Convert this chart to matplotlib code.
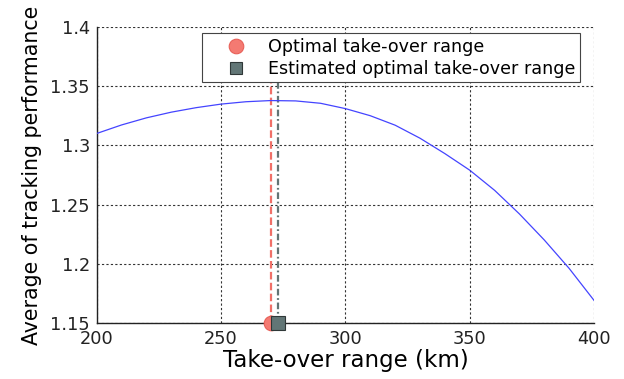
import matplotlib
matplotlib.use("Agg")
import matplotlib.pyplot as plt
from matplotlib.lines import Line2D

plt.rcParams['font.family'] = ['DejaVu Sans']

# Data
take_over_range = [200, 210, 220, 230, 240, 250, 260, 270, 280, 290, 300,
                   310, 320, 330, 340, 350, 360, 370, 380, 390, 400]
avg_performance = [1.310, 1.3172, 1.3232, 1.328, 1.3318, 1.3348, 1.3368, 1.3378,
                   1.3375, 1.3355, 1.331, 1.325, 1.317, 1.306, 1.293, 1.279,
                   1.262, 1.242, 1.220, 1.196, 1.169]
optimal_range = 270
estimated_range = 273
xticks = [200, 250, 300, 350, 400]
yticks = [1.15, 1.2, 1.25, 1.3, 1.35, 1.4]
yticklabels = ['1.15', '1.2', '1.25', '1.3', '1.35', '1.4']

fig = plt.figure(figsize=(6.24, 3.79), dpi=100)
ax = fig.add_axes([0.155, 0.148, 0.797, 0.781])

ax.plot(take_over_range, avg_performance, color='#4444ff', lw=0.9, zorder=3)
ax.axvline(optimal_range, ymax=0.95, color='#f07068', ls=(0, (3.4, 1.5)), lw=1.6, zorder=2)
ax.axvline(estimated_range, ymax=0.95, color='#627575', ls=(0, (3.0, 1.2, 0.8, 1.2)), lw=1.6, zorder=2)

ax.plot([optimal_range], [1.15], marker='o', ms=10.5, color='#f47a72',
        mec='#e86058', mew=0.8, ls='none', clip_on=False, zorder=5)
ax.plot([estimated_range], [1.15], marker='s', ms=9.5, color='#627676',
        mec='#303838', mew=0.8, ls='none', clip_on=False, zorder=6)

ax.set_xlim(200, 400)
ax.set_ylim(1.15, 1.4)
ax.set_xticks(xticks)
ax.set_yticks(yticks)
ax.set_yticklabels(yticklabels)
ax.tick_params(labelsize=12.8, length=0, pad=5, colors='#222222')
ax.grid(True, ls=(0, (2, 2)), color='#333333', lw=0.8)
for s in ['top', 'right']:
    ax.spines[s].set_visible(False)
for s in ['left', 'bottom']:
    ax.spines[s].set_color('#222222')
    ax.spines[s].set_linewidth(1.0)

ax.set_xlabel('Take-over range (km)', fontsize=16.5, labelpad=1)
ax.set_ylabel('Average of tracking performance', fontsize=14.8, labelpad=6)

handles = [
    Line2D([], [], marker='o', ms=10.5, color='#f47a72', mec='#e86058', mew=0.8, ls='none'),
    Line2D([], [], marker='s', ms=8.5, color='#627676', mec='#303838', mew=0.8, ls='none'),
]
leg = ax.legend(handles, ['Optimal take-over range', 'Estimated optimal take-over range'],
                loc='upper left', bbox_to_anchor=(0.323, 0.912),
                bbox_transform=fig.transFigure, fontsize=12.6, frameon=True,
                fancybox=False, framealpha=1, edgecolor='#444444',
                borderpad=0.25, labelspacing=0.25, handletextpad=0.15,
                handlelength=3.4, borderaxespad=0)
leg.get_frame().set_linewidth(0.8)
leg.set_zorder(10)

fig.savefig('out.png', dpi=100)
